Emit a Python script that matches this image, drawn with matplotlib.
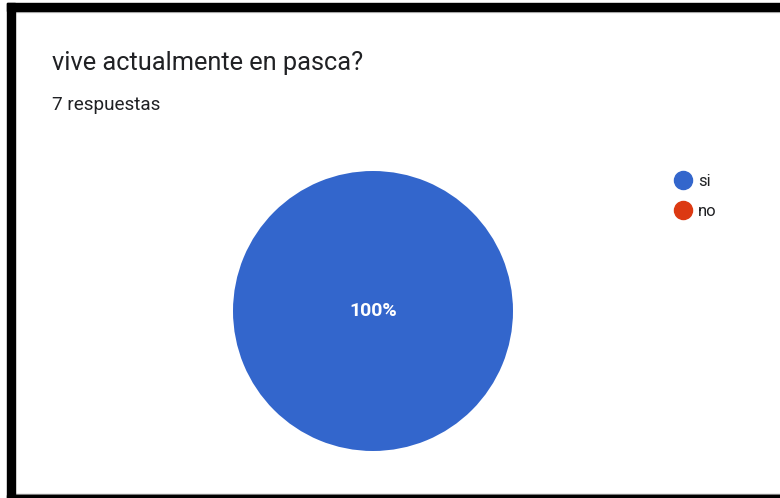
import matplotlib
matplotlib.use("Agg")
import matplotlib.pyplot as plt
from matplotlib.patches import Rectangle
from matplotlib.lines import Line2D

title = "vive actualmente en pasca?"
subtitle = "7 respuestas"
labels = ["si", "no"]
values = [7, 0]
colors = ["#3366CC", "#DC3912"]

W, H = 780, 498
fig = plt.figure(figsize=(W / 100, H / 100), dpi=100)
fig.patch.set_facecolor("white")

def px(x, y):
    return x / W, 1 - y / H

# frame
fig.patches.append(Rectangle((7 / W, 0), 8 / W, 1 - 3 / H, transform=fig.transFigure, color="black", zorder=5))
fig.patches.append(Rectangle((7 / W, 1 - 11 / H), 1, 8 / H, transform=fig.transFigure, color="black", zorder=5))
fig.patches.append(Rectangle((7 / W, 0), 1, 3 / H, transform=fig.transFigure, color="black", zorder=5))
fig.patches.append(Rectangle((15 / W, 1 - 12 / H), 1, 1 / H, transform=fig.transFigure, color="#cfcfcf", zorder=4))
fig.patches.append(Rectangle((15 / W, 3 / H), 1, 1 / H, transform=fig.transFigure, color="#9a9a9a", zorder=4))

# pie
cx, cy, r = 373, 311, 140
ax = fig.add_axes([(cx - r) / W, (H - cy - r) / H, 2 * r / W, 2 * r / H])
wedges, texts, autotexts = ax.pie(
    values, colors=colors, startangle=90, counterclock=False, radius=1,
    autopct=lambda p: f"{p:.0f}%" if p > 0 else "", pctdistance=0,
    textprops=dict(color="white", fontsize=14, fontweight="bold", family="Roboto"),
)
ax.set_xlim(-1, 1)
ax.set_ylim(-1, 1)
ax.set_aspect("equal")
ax.axis("off")

# titles
fig.text(*px(52, 63), title, fontsize=18.3, family="Roboto", color="#202124", va="center", ha="left")
fig.text(*px(52, 105), subtitle, fontsize=13.6, family="Roboto", color="#202124", va="center", ha="left")

# legend
handles = [Line2D([], [], marker="o", linestyle="none", markersize=13, markerfacecolor=c, markeredgecolor=c) for c in colors]
fig.legend(handles, labels, loc="upper left", bbox_to_anchor=px(673, 174), frameon=False,
           prop=dict(family="Roboto", size=12), handletextpad=0.3, labelspacing=0.92,
           handlelength=1.2, borderaxespad=0, borderpad=0, labelcolor="#202124")

fig.savefig("out.png", dpi=100)
